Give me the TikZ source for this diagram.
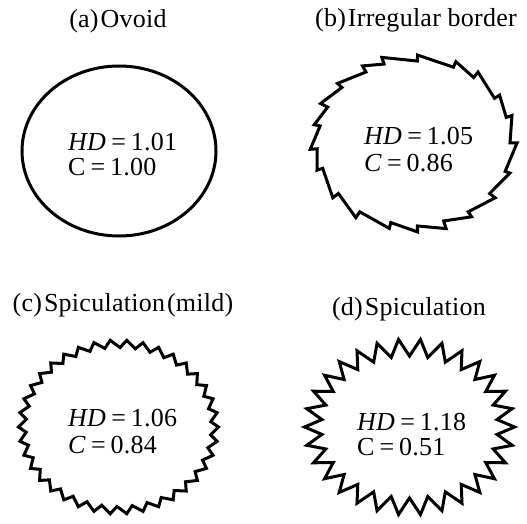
\documentclass[tikz,border=0pt]{standalone}
\usepackage{fontspec}
\setmainfont{Liberation Serif}[LetterSpace=1]
\begin{document}
\begin{tikzpicture}[x=1pt,y=1pt,
  outline/.style={line width=3pt,line join=miter,miter limit=8},
  lbl/.style={anchor=base west,inner sep=0pt,font=\fontsize{26}{26}\selectfont},
  ttl/.style={anchor=base,inner sep=0pt,font=\fontsize{26}{26}\selectfont}]
\useasboundingbox (0,0) rectangle (527,523);
% (a) Ovoid
\node[ttl] (ta) at (118,495) {(a)\hspace{2pt}Ovoid};
\draw[outline] (119,372) ellipse [x radius=97, y radius=85];
\node[lbl] (ha) at (68,372) {\textit{HD}\hspace{5pt}=\hspace{5pt}1.01};
\node[lbl] (ca) at (68,348) {C\hspace{5pt}=\hspace{5pt}1.00};
% (b) Irregular border
\node[ttl] (tb) at (416,496) {(b)\hspace{2pt}Irregular border};
\begin{scope}[shift={(414,380)}]
\draw[outline] (0:{99-3} and {85-3})
  \foreach \t/\u/\b/\a in {
    0/18/-3/4, 18/33/-2/3, 33/52/-3/5, 52/66/-2/4,
    66/88/-2/3, 88/108/-3/5, 108/120/-2/4, 120/138/-3/4,
    138/154/-2/5, 154/168/-3/3, 168/184/-3/5, 184/198/-2/3,
    198/218/-3/4, 218/236/-3/5, 236/256/-2/3, 256/272/-3/4,
    272/288/-2/5, 288/304/-3/4, 304/322/-2/4, 322/340/-3/3, 340/360/-2/4}
  { -- (\t:{99+\b} and {85+\b}) -- (\u:{99+\a} and {85+\a}) } -- cycle;
\end{scope}
\node[lbl] (hb) at (364,378) {\textit{HD}\hspace{5pt}=\hspace{5pt}1.05};
\node[lbl] (cb) at (364,352) {\textit{C}\hspace{5pt}=\hspace{5pt}0.86};
% (c) Spiculation (mild)
\node[ttl] (tc) at (123,212) {(c)\hspace{2pt}Spiculation\hspace{2pt}(mild)};
\begin{scope}[shift={(118.5,96)}]
\draw[outline] (0:100 and 87)
  \foreach \k in {0,...,37}
  { -- ({\k*360/38}:100 and 87) -- ({(\k+0.4)*360/38}:92.5 and 79.5) } -- cycle;
\end{scope}
\node[lbl] (hc) at (68,97) {\textit{HD}\hspace{5pt}=\hspace{5pt}1.06};
\node[lbl] (cc) at (68,70) {\textit{C}\hspace{5pt}=\hspace{5pt}0.84};
% (d) Spiculation
\node[ttl] (td) at (409,208) {(d)\hspace{2pt}Spiculation};
\begin{scope}[shift={(409.5,96)}]
\draw[outline] (0:105 and 88)
  \foreach \k in {0,...,29}
  { -- ({\k*12}:105 and 88) -- ({\k*12+6}:88 and 71) } -- cycle;
\end{scope}
\node[lbl] (hd) at (357,93) {\textit{HD}\hspace{5pt}=\hspace{5pt}1.18};
\node[lbl] (cd) at (357,68) {C\hspace{5pt}=\hspace{5pt}0.51};
\end{tikzpicture}
\end{document}
